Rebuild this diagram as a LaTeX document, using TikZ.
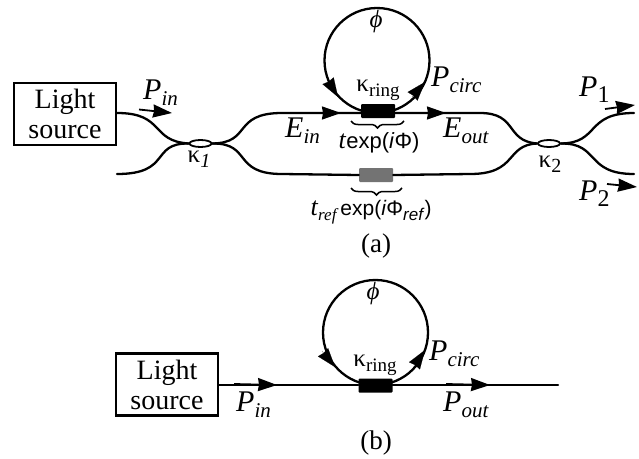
\documentclass[tikz,border=0pt]{standalone}
\usepackage{fontspec}
\setmainfont{Liberation Serif}
\setsansfont{Liberation Sans}
\usetikzlibrary{arrows.meta,decorations.pathreplacing,shapes.geometric}
\newcommand{\Sub}[2]{\textit{#1}\raisebox{-6pt}{\fontsize{21}{21}\selectfont\textit{#2}}}
\newcommand{\SubS}[2]{\raisebox{-5pt}{\fontsize{#1}{#1}\selectfont\textit{#2}}}
\newcommand{\SubU}[2]{\raisebox{-5pt}{\fontsize{#1}{#1}\selectfont #2}}
\tikzset{
  guide/.style={line width=2.3pt,line cap=round},
  lightbox/.style={draw,line width=2.2pt,minimum width=102pt,minimum height=62pt,inner sep=0pt,align=center,font=\fontsize{28}{30}\selectfont},
  ringc/.style={draw,circle,line width=2.3pt,minimum size=105pt,inner sep=0pt},
  coupler/.style={draw,ellipse,line width=1.8pt,minimum width=22pt,minimum height=7pt,inner sep=0pt},
  phase/.style={rounded corners=1pt,minimum width=34pt,minimum height=14pt,inner sep=0pt},
  flow/.style={line width=1.8pt,-{Stealth[length=19pt,width=13pt,inset=1pt]}},
  ringflow/.style={line width=0.1pt,-{Stealth[length=19pt,width=13pt,inset=1pt]}},
  brace/.style={draw,line width=1.5pt,decorate,decoration={brace,amplitude=7pt,mirror}},
  lab/.style={inner sep=0pt,anchor=base west,font=\fontsize{30}{30}\selectfont},
  smalltext/.style={inner sep=0pt,font=\fontsize{25}{25}\selectfont},
  captext/.style={inner sep=0pt,font=\fontsize{27}{27}\selectfont}
}
\begin{document}
\begin{tikzpicture}[x=1pt,y=-1pt]
\useasboundingbox (0,0) rectangle (639,458);
% ---- (a)
\node[lightbox] (srca) at (65,114) {Light\\source};
\node[coupler] (c1) at (200.5,143.5) {};
\node[coupler] (c2) at (549,143.5) {};
\node[ringc] (ringa) at (377,60.5) {};
\node[phase,fill=black] (pa) at (378,111) {};
\node[phase,fill=black!55] (pr) at (376,175) {};
\coordinate (bl) at (117,174);
\coordinate (o1) at (634,113);
\coordinate (o2) at (634,174);
\draw[guide] (srca.east |- 0,113) .. controls (165,113) and (150,141) .. (c1.west) ;
\draw[guide] (bl) .. controls (172,174) and (150,143) .. (c1.west);
\draw[guide] (c1.east) .. controls (252,143) and (232,113) .. (282,113) -- (pa.west |- 0,113);
\draw[guide] (c1.east) .. controls (252,143) and (232,174) .. (282,174) -- (pr.west);
\draw[guide] (pa.east |- 0,113) -- (480,113) .. controls (518,113) and (505,141) .. (c2.west);
\draw[guide] (pr.east) -- (470,174) .. controls (518,174) and (505,145) .. (c2.west);
\draw[guide] (c2.east) .. controls (600,143) and (585,113) .. (o1);
\draw[guide] (c2.east) .. controls (600,143) and (585,174) .. (o2);
% arrows (a)
\coordinate (a1s) at (139,109.5); \coordinate (a1t) at (172,113);
\coordinate (a2s) at (318,113); \coordinate (a2t) at (341,113);
\coordinate (a3s) at (420,113); \coordinate (a3t) at (446,113);
\coordinate (a4s) at (605,109); \coordinate (a4t) at (635,105);
\coordinate (a5s) at (607,184); \coordinate (a5t) at (637,187);
\coordinate (a6s) at (327,79); \coordinate (a6t) at (338,97);
\coordinate (a7s) at (412,97); \coordinate (a7t) at (425,82);
\draw[flow] (a1s) -- (a1t);
\draw[flow] (a2s) -- (a2t);
\draw[flow] (a3s) -- (a3t);
\draw[flow] (a4s) -- (a4t);
\draw[flow] (a5s) -- (a5t);
\draw[ringflow] (a6s) -- (a6t);
\draw[ringflow] (a7s) -- (a7t);
\coordinate (b1l) at (351,121); \coordinate (b1r) at (404,121);
\coordinate (b2l) at (351,188); \coordinate (b2r) at (402,188);
\draw[brace] (b1l) -- (b1r);
\draw[brace] (b2l) -- (b2r);
\node[lab] (pina) at (143,99) {\Sub{P}{in}};
\node[lab] (eina) at (285,137) {\Sub{E}{in}};
\node[lab] (eouta) at (443,137) {\Sub{E}{out}};
\node[lab] (pca) at (431,86) {\Sub{P}{circ}};
\node[lab] (p1a) at (579,96) {\textit{P}\raisebox{-6pt}{\fontsize{24}{24}\selectfont 1}};
\node[lab] (p2a) at (579,200) {\textit{P}\raisebox{-6pt}{\fontsize{24}{24}\selectfont 2}};
\node[smalltext] (k1) at (199,159) {κ\SubS{20}{1}};
\node[smalltext] (k2) at (550,164) {κ\SubU{20}{2}};
\node[smalltext] (kra) at (378,90) {κ\SubU{19}{ring}};
\node[smalltext] (phia) at (376,21) {\textit{ϕ}};
\node[inner sep=0pt] (ta) at (379,143) {\fontsize{26}{26}\selectfont\textit{t}\fontsize{22}{22}\selectfont\sffamily exp(\textit{i}Φ)};
\node[inner sep=0pt] (tr) at (371,212) {\fontsize{26}{26}\selectfont\textit{t}\SubS{17}{ref}\hspace{2pt}\fontsize{21}{21}\selectfont\sffamily exp(\textit{i}Φ\SubS{17}{ref})};
\node[captext] (capa) at (376,246) {(a)};
% ---- (b)
\node[lightbox] (srcb) at (167,384.5) {Light\\source};
\node[ringc] (ringb) at (375.5,332.5) {};
\node[phase,fill=black] (pb) at (375.5,385.5) {};
\coordinate (oute) at (558,385);
\draw[guide] (srcb.east |- 0,385) -- (pb.west |- 0,385);
\draw[guide] (pb.east |- 0,385) -- (oute);
\coordinate (b1s) at (234,384); \coordinate (b1t) at (277,385);
\coordinate (b2s) at (446,384); \coordinate (b2t) at (490,385);
\coordinate (b3s) at (322,351); \coordinate (b3t) at (335,367);
\coordinate (b4s) at (413,368); \coordinate (b4t) at (425,350);
\draw[flow] (b1s) -- (b1t);
\draw[flow] (b2s) -- (b2t);
\draw[ringflow] (b3s) -- (b3t);
\draw[ringflow] (b4s) -- (b4t);
\node[lab] (pinb) at (236,411) {\Sub{P}{in}};
\node[lab] (poutb) at (443,411) {\Sub{P}{out}};
\node[lab] (pcb) at (429,360) {\Sub{P}{circ}};
\node[smalltext] (krb) at (375,365) {κ\SubU{19}{ring}};
\node[smalltext] (phib) at (373,293) {\textit{ϕ}};
\node[captext] (capb) at (376,443) {(b)};
\end{tikzpicture}
\end{document}
